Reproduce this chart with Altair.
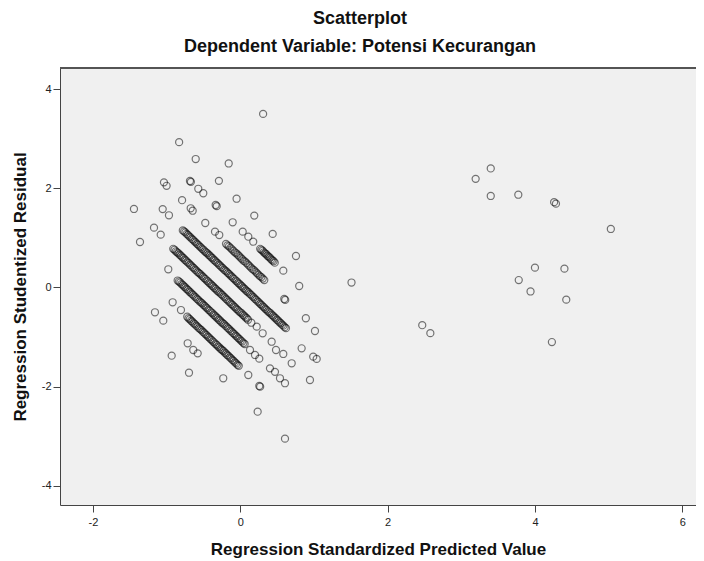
import altair as alt
import pandas as pd

# Regression Standardized Predicted Value (pred) / Studentized Residual (resid)
top_pred = [0.31, -0.157, -0.83, -0.605, -0.29, -0.05, 0.19, 0.44, 0.756]
top_resid = [3.50, 2.50, 2.93, 2.59, 2.15, 1.79, 1.45, 1.08, 0.635]

band0_pred = [-0.683, -0.67, -0.57, -0.502, -0.334, -0.32, -0.103, 0.033, 0.109, 0.176,
              0.27, 0.303, 0.336, 0.369, 0.402, 0.435, 0.468, 0.584, 0.80,
              0.2865, 0.3195, 0.3525, 0.3855, 0.4185, 0.4515]
band0_resid = [2.147, 2.13, 1.99, 1.90, 1.663, 1.64, 1.315, 1.125, 1.024, 0.923,
               0.78, 0.74, 0.69, 0.64, 0.60, 0.55, 0.50, 0.339, 0.03,
               0.76, 0.71, 0.67, 0.62, 0.57, 0.53]

band1_pred = [-1.036, -1.0, -0.79, -0.673, -0.646, -0.475, -0.343, -0.285,
              -0.194, -0.154, -0.114, -0.074, -0.034, 0.006, 0.046, 0.086, 0.126, 0.166,
              0.206, 0.246, 0.286, 0.326, 0.597, 0.61, 0.89, 1.014]
band1_resid = [2.12, 2.05, 1.76, 1.597, 1.548, 1.30, 1.125, 1.058,
               0.88, 0.83, 0.77, 0.71, 0.66, 0.60, 0.54, 0.49, 0.43, 0.37,
               0.32, 0.26, 0.21, 0.15, -0.232, -0.25, -0.62, -0.877]
band1b_pred = [-0.174, -0.134, -0.094, -0.054, -0.014, 0.026, 0.066, 0.106,
               0.146, 0.186, 0.226, 0.266, 0.306]
band1b_resid = [0.85, 0.80, 0.74, 0.69, 0.63, 0.57, 0.52, 0.46,
                0.40, 0.35, 0.29, 0.23, 0.18]

band2_pred = [-1.053, -0.968, -0.78, -0.745, -0.71, -0.675, -0.64, -0.605, -0.57, -0.535,
              -0.50, -0.465, -0.43, -0.395, -0.36, -0.325, -0.29, -0.255, -0.22, -0.185,
              -0.15, -0.115, -0.08, -0.045, -0.01, 0.025, 0.06, 0.095, 0.13, 0.165,
              0.20, 0.235, 0.27, 0.305, 0.34, 0.375, 0.41, 0.445, 0.48, 0.515,
              0.55, 0.585, 0.62, 0.833, 0.99, 1.037]
band2_resid = [1.58, 1.456, 1.15, 1.11, 1.06, 1.01, 0.96, 0.91, 0.86, 0.81,
               0.76, 0.71, 0.66, 0.61, 0.56, 0.51, 0.46, 0.41, 0.36, 0.32,
               0.27, 0.22, 0.17, 0.12, 0.07, 0.02, -0.03, -0.08, -0.13, -0.18,
               -0.23, -0.28, -0.33, -0.38, -0.43, -0.48, -0.52, -0.57, -0.62, -0.67,
               -0.72, -0.77, -0.82, -1.226, -1.395, -1.44]
band2b_pred = [-0.7625, -0.7275, -0.6925, -0.6575, -0.6225, -0.5875, -0.5525, -0.5175,
               -0.4825, -0.4475, -0.4125, -0.3775, -0.3425, -0.3075, -0.2725, -0.2375,
               -0.2025, -0.1675, -0.1325, -0.0975, -0.0625, -0.0275, 0.0075, 0.0425,
               0.0775, 0.1125, 0.1475, 0.1825, 0.2175, 0.2525, 0.2875, 0.3225,
               0.3575, 0.3925, 0.4275, 0.4625, 0.4975, 0.5325, 0.5675, 0.6025]
band2b_resid = [1.13, 1.08, 1.03, 0.98, 0.93, 0.88, 0.83, 0.78,
                0.73, 0.69, 0.64, 0.59, 0.54, 0.49, 0.44, 0.39,
                0.34, 0.29, 0.24, 0.19, 0.14, 0.09, 0.04, -0.01,
                -0.06, -0.10, -0.15, -0.20, -0.25, -0.30, -0.35, -0.40,
                -0.45, -0.50, -0.55, -0.60, -0.65, -0.70, -0.75, -0.80]

band3_pred = [-1.443, -1.171, -1.08, -0.91, -0.875, -0.84, -0.805, -0.77, -0.735, -0.70,
              -0.665, -0.63, -0.595, -0.56, -0.525, -0.49, -0.455, -0.42, -0.385, -0.35,
              -0.315, -0.28, -0.245, -0.21, -0.175, -0.14, -0.105, -0.07, -0.035, 0.0,
              0.035, 0.07, 0.105, 0.15, 0.223, 0.304, 0.426, 0.485, 0.584, 0.698, 0.946]
band3_resid = [1.583, 1.206, 1.065, 0.78, 0.73, 0.69, 0.64, 0.59, 0.54, 0.49,
               0.44, 0.39, 0.34, 0.29, 0.24, 0.19, 0.14, 0.09, 0.04, -0.01,
               -0.06, -0.10, -0.15, -0.20, -0.25, -0.30, -0.35, -0.40, -0.45, -0.50,
               -0.55, -0.60, -0.65, -0.71, -0.79, -0.923, -1.093, -1.26, -1.34, -1.528, -1.865]
band3b_pred = [-0.8925, -0.8575, -0.8225, -0.7875, -0.7525, -0.7175, -0.6825, -0.6475,
               -0.6125, -0.5775, -0.5425, -0.5075, -0.4725, -0.4375, -0.4025, -0.3675,
               -0.3325, -0.2975, -0.2625, -0.2275, -0.1925, -0.1575, -0.1225, -0.0875,
               -0.0525, -0.0175, 0.0175, 0.0525, 0.0875]
band3b_resid = [0.76, 0.71, 0.66, 0.61, 0.56, 0.51, 0.46, 0.41,
                0.36, 0.31, 0.27, 0.22, 0.17, 0.12, 0.07, 0.02,
                -0.03, -0.08, -0.13, -0.18, -0.23, -0.28, -0.33, -0.38,
                -0.43, -0.48, -0.52, -0.57, -0.62]

band4_pred = [-1.361, -0.977, -0.85, -0.815, -0.78, -0.745, -0.71, -0.675, -0.64, -0.605,
              -0.57, -0.535, -0.50, -0.465, -0.43, -0.395, -0.36, -0.325, -0.29, -0.255,
              -0.22, -0.185, -0.15, -0.115, -0.08, -0.045, -0.01, 0.025, 0.06,
              0.132, 0.2, 0.258, 0.403, 0.471, 0.539, 0.607]
band4_resid = [0.917, 0.367, 0.14, 0.10, 0.05, 0.00, -0.05, -0.10, -0.15, -0.20,
               -0.25, -0.30, -0.35, -0.40, -0.45, -0.50, -0.55, -0.60, -0.65, -0.70,
               -0.74, -0.79, -0.84, -0.89, -0.94, -0.99, -1.04, -1.09, -1.14,
               -1.26, -1.36, -1.435, -1.63, -1.70, -1.83, -1.93]
band4b_pred = [-0.8325, -0.7975, -0.7625, -0.7275, -0.6925, -0.6575, -0.6225, -0.5875,
               -0.5525, -0.5175, -0.4825, -0.4475, -0.4125, -0.3775, -0.3425, -0.3075,
               -0.2725, -0.2375, -0.2025, -0.1675, -0.1325, -0.0975, -0.0625, -0.0275,
               0.0075, 0.0425]
band4b_resid = [0.12, 0.07, 0.02, -0.03, -0.08, -0.13, -0.18, -0.23,
                -0.28, -0.32, -0.37, -0.42, -0.47, -0.52, -0.57, -0.62,
                -0.67, -0.72, -0.77, -0.82, -0.87, -0.92, -0.97, -1.02,
                -1.07, -1.12]

band5_pred = [-0.918, -0.805, -0.72, -0.685, -0.65, -0.615, -0.58, -0.545, -0.51, -0.475,
              -0.44, -0.405, -0.37, -0.335, -0.30, -0.265, -0.23, -0.195, -0.16, -0.125,
              -0.09, -0.055, -0.02, 0.109, 0.258, 0.27]
band5_resid = [-0.298, -0.454, -0.59, -0.64, -0.69, -0.74, -0.79, -0.84, -0.89, -0.94,
               -0.99, -1.04, -1.09, -1.14, -1.19, -1.24, -1.28, -1.33, -1.38, -1.43,
               -1.48, -1.53, -1.58, -1.764, -1.986, -2.0]
band5b_pred = [-0.7025, -0.6675, -0.6325, -0.5975, -0.5625, -0.5275, -0.4925, -0.4575,
               -0.4225, -0.3875, -0.3525, -0.3175, -0.2825, -0.2475, -0.2125, -0.1775,
               -0.1425, -0.1075, -0.0725, -0.0375]
band5b_resid = [-0.62, -0.67, -0.72, -0.77, -0.82, -0.86, -0.91, -0.96,
                -1.01, -1.06, -1.11, -1.16, -1.21, -1.26, -1.31, -1.36,
                -1.41, -1.46, -1.51, -1.56]

low_pred = [-1.158, -1.045, -0.714, -0.638, -0.578, -0.231, 0.236, 0.607, -0.931, -0.696]
low_resid = [-0.5, -0.669, -1.125, -1.26, -1.327, -1.83, -2.504, -3.048, -1.375, -1.718]

far_pred = [1.51, 2.47, 2.58, 3.195, 3.40, 3.40, 3.774, 4.26, 4.285, 5.03,
            4.0, 4.40, 3.78, 3.94, 4.425, 4.23]
far_resid = [0.10, -0.76, -0.92, 2.19, 2.40, 1.845, 1.87, 1.72, 1.69, 1.18,
             0.40, 0.38, 0.15, -0.08, -0.245, -1.10]

x_ticks = [-2, 0, 2, 4, 6]
y_ticks = [-4, -2, 0, 2, 4]

pred = (top_pred + band0_pred + band1_pred + band1b_pred + band2_pred + band2b_pred
        + band3_pred + band3b_pred + band4_pred + band4b_pred + band5_pred + band5b_pred
        + low_pred + far_pred)
resid = (top_resid + band0_resid + band1_resid + band1b_resid + band2_resid + band2b_resid
         + band3_resid + band3b_resid + band4_resid + band4b_resid + band5_resid
         + band5b_resid + low_resid + far_resid)
df = pd.DataFrame({"pred": pred, "resid": resid})

FONT = "Liberation Sans"
PLOT_W = 636
PLOT_H = 437

points = alt.Chart(df).mark_point(
    shape="circle", filled=False, size=50, stroke="#000000",
    strokeOpacity=0.75, strokeWidth=1.2
).encode(
    x=alt.X("pred:Q",
            scale=alt.Scale(domain=[-2.447, 6.186], nice=False, zero=False),
            axis=alt.Axis(values=x_ticks, title="Regression Standardized Predicted Value",
                          labelExpr="toString(datum.value)", grid=False,
                          labelPadding=4, titlePadding=14)),
    y=alt.Y("resid:Q",
            scale=alt.Scale(domain=[-4.385, 4.425], nice=False, zero=False),
            axis=alt.Axis(values=y_ticks, title="Regression Studentized Residual",
                          labelExpr="toString(datum.value)", grid=False,
                          labelPadding=2, titlePadding=12)),
)

top_border = alt.Chart(df).mark_rule(color="#555555", strokeWidth=1.6).encode(
    x=alt.value(0), x2=alt.value(PLOT_W), y=alt.value(0)
)

chart = alt.layer(points, top_border).properties(
    width=PLOT_W, height=PLOT_H,
    autosize=alt.AutoSizeParams(type="none"),
    padding={"left": 52, "top": 60, "right": 0, "bottom": 56},
    title=alt.TitleParams(
        text="Scatterplot", subtitle="Dependent Variable: Potensi Kecurangan",
        font=FONT, subtitleFont=FONT, fontSize=18, subtitleFontSize=18,
        fontWeight="bold", subtitleFontWeight="bold",
        color="#111111", subtitleColor="#111111",
        anchor="middle", dx=-18, offset=11, subtitlePadding=10),
).configure_view(
    fill="#f0f0f0", stroke=None
).configure_axis(
    domainColor="#444444", domainWidth=1, tickColor="#444444", tickWidth=1, tickSize=7,
    labelFont=FONT, labelFontSize=11, labelColor="#222222",
    titleFont=FONT, titleFontSize=17, titleFontWeight="bold", titleColor="#111111"
)

chart.save("out.html", embed_options={"renderer": "svg", "actions": False})
